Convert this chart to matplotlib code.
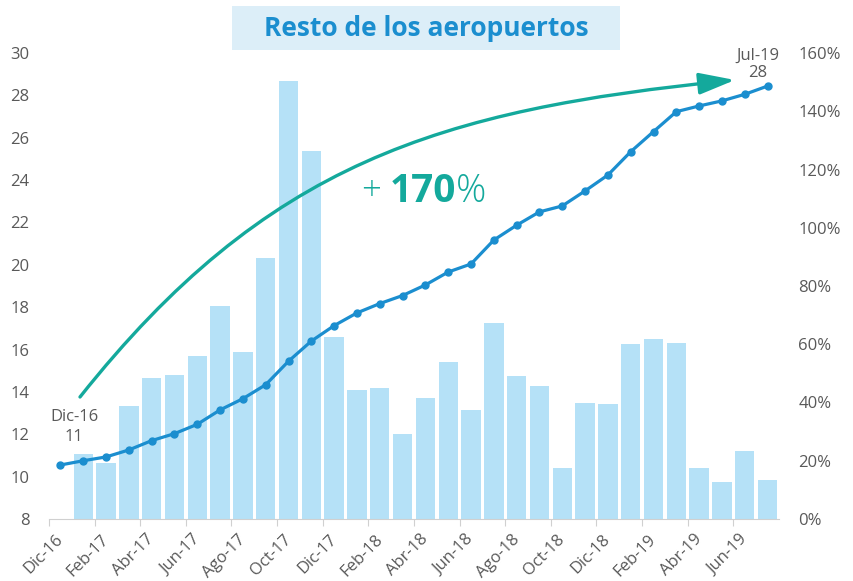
import numpy as np
import matplotlib.pyplot as plt
import matplotlib.transforms as mtransforms
from matplotlib.patches import Rectangle, FancyArrowPatch
from matplotlib.path import Path

plt.rcParams['font.family'] = ['Open Sans', 'DejaVu Sans']

# Data
months = ['Dic-16', 'Ene-17', 'Feb-17', 'Mar-17', 'Abr-17', 'May-17', 'Jun-17', 'Jul-17',
          'Ago-17', 'Sep-17', 'Oct-17', 'Nov-17', 'Dic-17', 'Ene-18', 'Feb-18', 'Mar-18',
          'Abr-18', 'May-18', 'Jun-18', 'Jul-18', 'Ago-18', 'Sep-18', 'Oct-18', 'Nov-18',
          'Dic-18', 'Ene-19', 'Feb-19', 'Mar-19', 'Abr-19', 'May-19', 'Jun-19', 'Jul-19']

# cumulative count (left axis)
line_vals = [10.55, 10.75, 10.93, 11.26, 11.70, 12.03, 12.47, 13.15,
             13.68, 14.34, 15.45, 16.40, 17.13, 17.73, 18.17, 18.55,
             19.05, 19.66, 20.04, 21.17, 21.87, 22.50, 22.78, 23.49,
             24.24, 25.34, 26.29, 27.23, 27.50, 27.74, 28.05, 28.44]

# monthly growth in % (right axis), from Ene-17 onwards
bar_pct = [22.3, 19.2, 38.8, 48.4, 49.4, 56.0, 73.1, 57.3,
           89.6, 150.4, 126.4, 62.5, 44.3, 45.0, 29.2, 41.5,
           53.9, 37.4, 67.3, 49.1, 45.7, 17.5, 39.8, 39.5,
           60.1, 61.8, 60.4, 17.5, 12.7, 23.3, 13.4]

left_ticks = list(range(8, 31, 2))
right_ticks = list(range(0, 161, 20))

BLUE = '#1B8ECF'
BAR = '#B5E1F7'
TEAL = '#14A99C'
GREY = '#595959'

fig = plt.figure(figsize=(8.54, 5.81), dpi=100)
ax = fig.add_axes([49 / 854, 62 / 581, 730 / 854, 466 / 581])
ax2 = ax.twinx()

x = np.arange(len(months))

ax2.bar(x[1:], bar_pct, width=0.85, color=BAR, zorder=1)
ax2.set_ylim(0, 160)
ax2.set_yticks(right_ticks)
ax2.set_yticklabels([f'{v}%' for v in right_ticks])

ax.set_zorder(ax2.get_zorder() + 1)
ax.patch.set_visible(False)
ax.plot(x, line_vals, color=BLUE, lw=2.3, marker='o', ms=5, zorder=3)
ax.set_ylim(8, 30)
ax.set_yticks(left_ticks)
ax.set_xlim(-0.5, len(months) - 0.5)

# ticks on every other month boundary, labels drawn by hand
tick_pos = x[::2] - 0.5
ax.set_xticks(tick_pos)
ax.set_xticklabels([])
lab_trans = (mtransforms.blended_transform_factory(ax.transData, ax.transAxes)
             + mtransforms.ScaledTranslation(6 / 100, -12.5 / 100, fig.dpi_scale_trans))
for pos, name in zip(tick_pos, months[::2]):
    ax.text(pos, 0, name, transform=lab_trans, rotation=45, ha='right', va='top',
            rotation_mode='anchor', color=GREY, fontsize=12, clip_on=False)

for a in (ax, ax2):
    for s in a.spines.values():
        s.set_visible(False)
ax.spines['bottom'].set_visible(True)
ax.spines['bottom'].set_color('#D0D0D0')
ax.tick_params(axis='x', colors='#D0D0D0', length=5)
ax.tick_params(axis='y', length=0, labelcolor=GREY, labelsize=12, pad=14)
ax2.tick_params(axis='y', length=0, labelcolor=GREY, labelsize=12, pad=14)

# point labels
ax.annotate(f'{months[0]}\n{round(line_vals[0])}', (x[0], line_vals[0]),
            xytext=(14, 38), textcoords='offset pixels', ha='center', va='center',
            color=GREY, fontsize=12, linespacing=1.3)
ax.annotate(f'{months[-1]}\n{round(line_vals[-1])}', (x[-1], line_vals[-1]),
            xytext=(-10, 22), textcoords='offset pixels', ha='center', va='center',
            color=GREY, fontsize=12, linespacing=1.1)

# title box
fig.patches.append(Rectangle((232, 531), 388, 44, transform=None,
                             facecolor='#DCEEF8', edgecolor='none'))
fig.text(426 / 854, 553 / 581, 'Resto de los aeropuertos', ha='center', va='center',
         color=BLUE, fontsize=19, fontweight='bold')

# growth arrow (cubic curve in figure pixels)
arc = Path([(80, 184), (266, 418), (438, 471), (735, 501)],
           [Path.MOVETO, Path.CURVE4, Path.CURVE4, Path.CURVE4])
fig.add_artist(FancyArrowPatch(path=arc, transform=None,
                               arrowstyle='-|>,head_length=1.1,head_width=0.33',
                               mutation_scale=20, color=TEAL, lw=2.4))

fig.text(381 / 854, 390 / 581, '+', ha='right', va='center', color=TEAL,
         fontsize=25, fontweight='light')
t2 = fig.text(390 / 854, 390 / 581, '170', ha='left', va='center', color=TEAL,
              fontsize=28, fontweight='bold')
ax.annotate('%', xy=(1, 0), xycoords=t2, xytext=(0, 0), textcoords='offset points',
            ha='left', va='bottom', color=TEAL, fontsize=27, fontweight='light')

fig.savefig('out.png', dpi=100)
